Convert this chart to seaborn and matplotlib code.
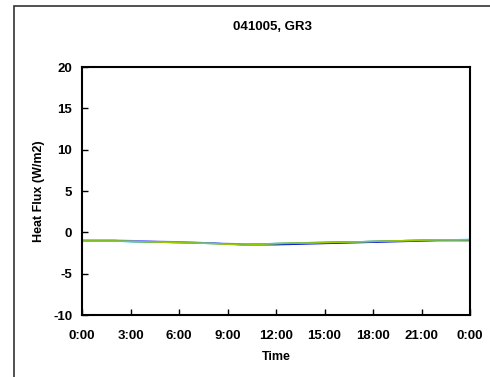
import matplotlib
matplotlib.use("Agg")
import matplotlib.pyplot as plt
import seaborn as sns
import pandas as pd
from matplotlib.patches import Rectangle

sns.set_style("white")
plt.rcParams['font.family'] = ['Liberation Sans', 'DejaVu Sans']
plt.rcParams['axes.unicode_minus'] = False
plt.rcParams['text.color'] = 'black'

hours = list(range(25))
tick_hours = [0, 3, 6, 9, 12, 15, 18, 21, 24]
tick_labels = ["0:00", "3:00", "6:00", "9:00", "12:00", "15:00", "18:00", "21:00", "0:00"]
y_ticks = [-10, -5, 0, 5, 10, 15, 20]

s_blue = [-1.0, -1.0, -1.0, -1.05, -1.1, -1.15, -1.2, -1.25, -1.3, -1.4, -1.5, -1.5, -1.5, -1.45, -1.4, -1.35, -1.3, -1.25, -1.2, -1.15, -1.1, -1.05, -1.0, -1.0, -1.0]
s_cyan = [-1.05, -1.05, -1.05, -1.15, -1.2, -1.2, -1.25, -1.3, -1.35, -1.4, -1.45, -1.4, -1.35, -1.3, -1.25, -1.2, -1.2, -1.15, -1.1, -1.05, -1.0, -0.95, -0.9, -0.9, -0.85]
s_green = [-1.05, -1.05, -1.05, -1.1, -1.15, -1.2, -1.25, -1.3, -1.35, -1.45, -1.55, -1.45, -1.35, -1.3, -1.3, -1.25, -1.2, -1.15, -1.1, -1.05, -1.0, -0.95, -0.9, -0.9, -0.9]
s_lav = [-0.95, -0.95, -0.95, -1.0, -1.05, -1.1, -1.15, -1.2, -1.3, -1.35, -1.4, -1.4, -1.35, -1.3, -1.25, -1.2, -1.15, -1.15, -1.1, -1.05, -1.0, -1.0, -0.95, -0.95, -0.9]
s_teal = [-1.0, -1.0, -1.0, -1.1, -1.15, -1.2, -1.25, -1.3, -1.35, -1.4, -1.5, -1.45, -1.4, -1.35, -1.3, -1.25, -1.2, -1.15, -1.1, -1.05, -1.0, -0.95, -0.95, -0.9, -0.9]

series = {"blue": s_blue, "lav": s_lav, "cyan": s_cyan, "teal": s_teal, "green": s_green}
colors = {"lav": "#7f7fff", "cyan": "#33ccff", "teal": "#4a9a8a", "green": "#99cc00", "blue": "#0000ee"}

rows = []
for name, vals in series.items():
    for h, v in zip(hours, vals):
        rows.append({"hour": h, "flux": v, "series": name})
df = pd.DataFrame(rows)

fig = plt.figure(figsize=(4.9, 3.77), dpi=100)
ax = fig.add_axes([82/490, 1-315/377, (470-82)/490, (315-67)/377])

sns.lineplot(data=df, x="hour", y="flux", hue="series", palette=colors,
             ax=ax, legend=False, linewidth=1.0, estimator=None)

ax.set_xlim(0, 24)
ax.set_ylim(-10, 20)
ax.set_xticks(tick_hours)
ax.set_xticklabels(tick_labels)
ax.set_yticks(y_ticks)
ax.tick_params(direction="in", length=4, width=1, labelsize=9.5, colors="black",
               bottom=True, left=True)
ax.tick_params(axis="x", pad=11)
ax.tick_params(axis="y", pad=7)
for lab in ax.get_xticklabels() + ax.get_yticklabels():
    lab.set_fontweight("bold")
for sp in ax.spines.values():
    sp.set_linewidth(1.5)
    sp.set_color("black")

ax.set_xlabel("Time", fontsize=9, fontweight="bold", labelpad=6, color="black")
ax.set_ylabel("Heat Flux (W/m2)", fontsize=9, fontweight="bold", labelpad=6, color="black")
fig.text(272/490, 1-27/377, "041005, GR3", ha="center", va="center",
         fontsize=9.5, fontweight="bold", color="black")

fig.patches.append(Rectangle((14/490, -0.1), 1.2, 1 - 6/377 + 0.1, transform=fig.transFigure,
                             fill=False, edgecolor="#333333", linewidth=1.2))

fig.savefig("out.png", dpi=100)
